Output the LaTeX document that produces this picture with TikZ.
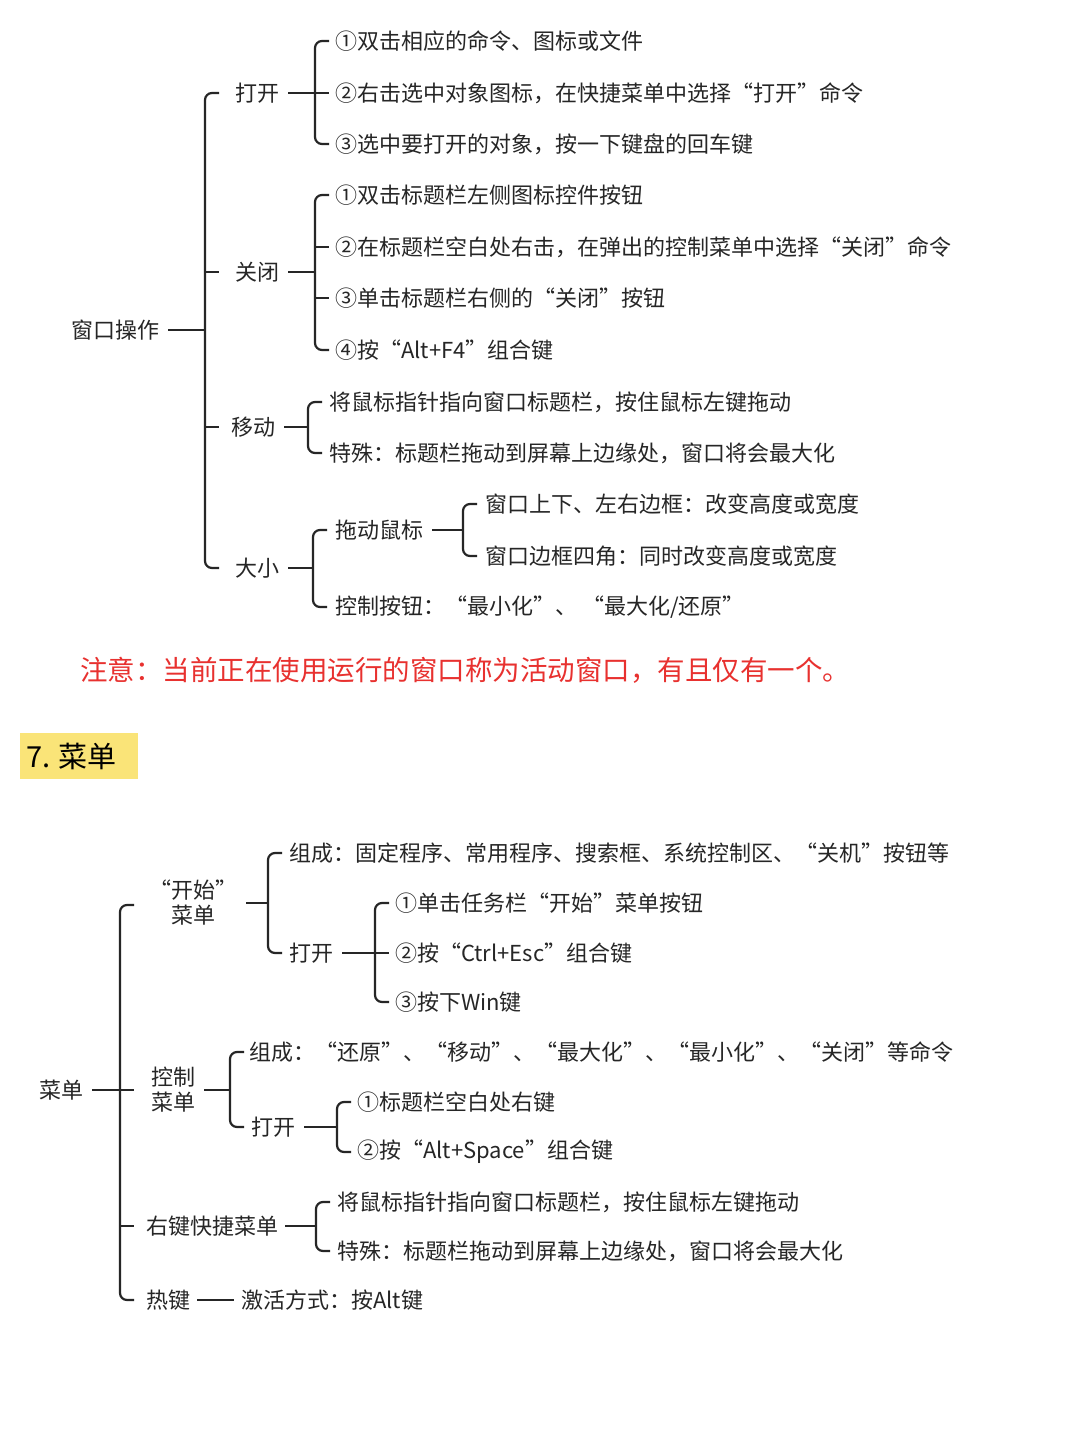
\documentclass[tikz,border=0pt]{standalone}
\usepackage{fontspec}
\setmainfont{Noto Sans CJK SC}
\definecolor{notered}{RGB}{232,49,47}
\definecolor{hly}{RGB}{250,228,120}
\begin{document}
\begin{tikzpicture}[x=1pt,y=-1pt,
  t/.style={anchor=west,inner sep=1pt,font=\fontsize{22}{25}\selectfont,text=black!85},
  ln/.style={line width=2.2pt,black!85},
  br/.style={ln,rounded corners=7pt}]
\useasboundingbox (0,0) rectangle (1080,1440);
\fill[white] (0,0) rectangle (1080,1440);
\newcommand\brk[4]{\draw[br] (#1+14,#2) -- (#1,#2) -- (#1,#3) -- (#1+14,#3);
  \foreach \m in {#4}{\draw[ln] (#1,\m) -- (#1+14,\m);}}
% ---- top
\node[t] (wc) at (70,330) {窗口操作};
\brk{205}{93}{568}{272,427}
\draw[ln] (wc.east) ++(8,0) -- (205,330);
\node[t] (dk) at (234,93) {打开};
\node[t] (gb) at (234,272) {关闭};
\node[t] (yd) at (230,427) {移动};
\node[t] (dx) at (234,568) {大小};
\draw[ln] (dk.east)++(8,0) -- (315,93);
\brk{315}{41}{144}{93}
\node[t] at (334,41) {①双击相应的命令、图标或文件};
\node[t] at (334,93) {②右击选中对象图标，在快捷菜单中选择“打开”命令};
\node[t] at (334,144) {③选中要打开的对象，按一下键盘的回车键};
\draw[ln] (gb.east)++(8,0) -- (315,272);
\brk{315}{195}{350}{247,298}
\node[t] at (334,195) {①双击标题栏左侧图标控件按钮};
\node[t] at (334,247) {②在标题栏空白处右击，在弹出的控制菜单中选择“关闭”命令};
\node[t] at (334,298) {③单击标题栏右侧的“关闭”按钮};
\node[t] at (334,350) {④按“Alt+F4”组合键};
\draw[ln] (yd.east)++(8,0) -- (308,427);
\brk{308}{402}{453}{}
\node[t] at (328,402) {将鼠标指针指向窗口标题栏，按住鼠标左键拖动};
\node[t] at (328,453) {特殊：标题栏拖动到屏幕上边缘处，窗口将会最大化};
\draw[ln] (dx.east)++(8,0) -- (313,568);
\brk{313}{530}{607}{}
\node[t] (td) at (334,530) {拖动鼠标};
\node[t] at (334,607) {控制按钮：“最小化”、 “最大化/还原”};
\draw[ln] (td.east)++(8,0) -- (463,530);
\brk{463}{504}{556}{}
\node[t] at (484,504) {窗口上下、左右边框：改变高度或宽度};
\node[t] at (484,556) {窗口边框四角：同时改变高度或宽度};
\node[anchor=west,inner sep=0,font=\fontsize{27.5}{30}\selectfont,text=notered] (note) at (80,670) {注意：当前正在使用运行的窗口称为活动窗口，有且仅有一个。};
\fill[hly] (20,733) rectangle (138,779);
\node[anchor=west,inner sep=0,font=\fontsize{29}{32}\selectfont] (h7) at (26,756) {7. 菜单};
% ---- bottom
\node[t] (cd) at (38,1090) {菜单};
\brk{120}{905}{1300}{1090,1226}
\draw[ln] (cd.east)++(8,0) -- (120,1090);
\node[t,align=center,anchor=center] (ks) at (193,903) {“开始”\\菜单};
\node[t,align=center,anchor=center] (kz) at (173,1090) {控制\\菜单};
\node[t] (yj) at (145,1226) {右键快捷菜单};
\node[t] (rj) at (145,1300) {热键};
\draw[ln] (rj.east)++(6,0) -- (234,1300);
\node[t] at (240,1300) {激活方式：按Alt键};
\draw[ln] (ks.east)++(8,0) -- (268,903);
\brk{268}{853}{953}{}
\node[t] at (288,853) {组成：固定程序、常用程序、搜索框、系统控制区、“关机”按钮等};
\node[t] (dk2) at (288,953) {打开};
\draw[ln] (dk2.east)++(8,0) -- (375,953);
\brk{375}{903}{1002}{953}
\node[t] at (394,903) {①单击任务栏“开始”菜单按钮};
\node[t] at (394,953) {②按“Ctrl+Esc”组合键};
\node[t] at (394,1002) {③按下Win键};
\draw[ln] (kz.east)++(8,0) -- (230,1090);
\brk{230}{1052}{1127}{}
\node[t] at (248,1052) {组成：“还原”、“移动”、“最大化”、“最小化”、“关闭”等命令};
\node[t] (dk3) at (250,1127) {打开};
\draw[ln] (dk3.east)++(8,0) -- (337,1127);
\brk{337}{1102}{1152}{}
\node[t] at (356,1102) {①标题栏空白处右键};
\node[t] at (356,1152) {②按“Alt+Space”组合键};
\draw[ln] (yj.east)++(6,0) -- (316,1226);
\brk{316}{1202}{1251}{}
\node[t] at (336,1202) {将鼠标指针指向窗口标题栏，按住鼠标左键拖动};
\node[t] at (336,1251) {特殊：标题栏拖动到屏幕上边缘处，窗口将会最大化};
\end{tikzpicture}
\end{document}
